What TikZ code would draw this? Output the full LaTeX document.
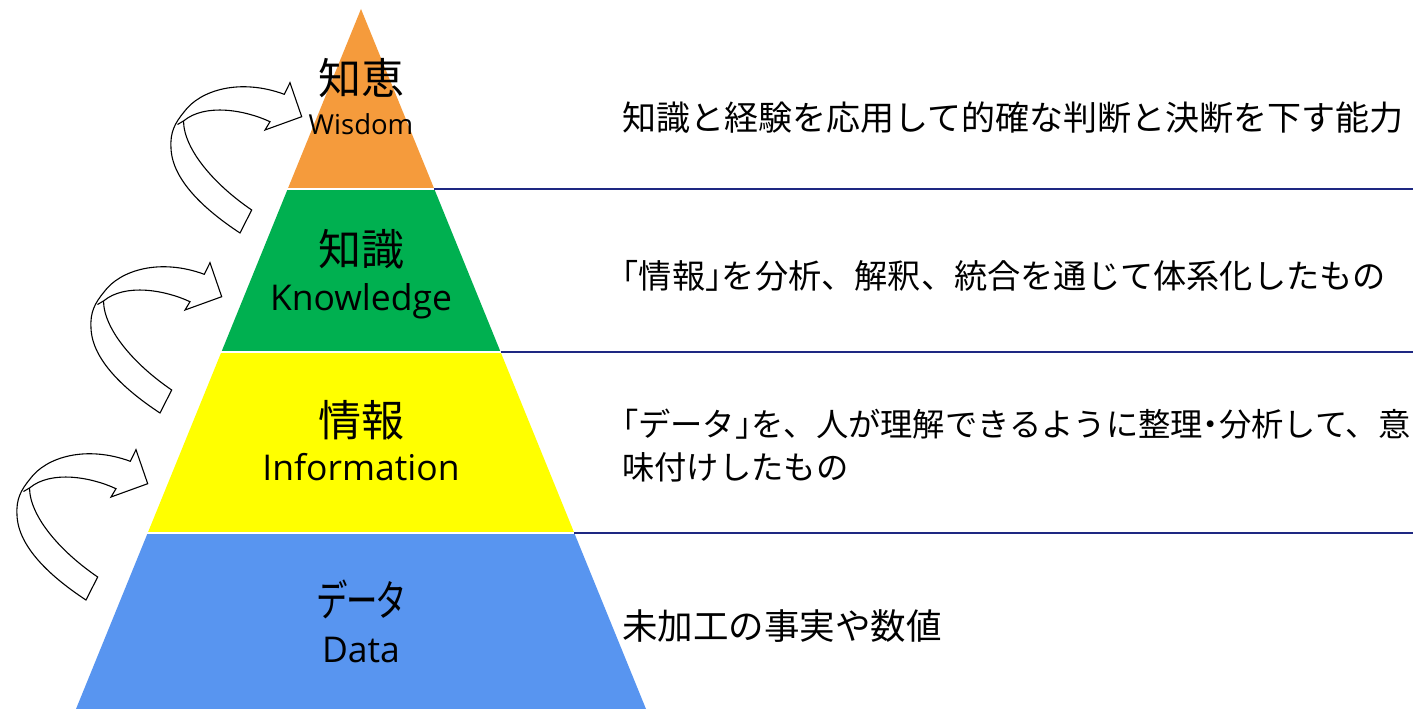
\documentclass[tikz,border=0pt]{standalone}
\usepackage{fontspec}
\newfontfamily\jp{Noto Sans CJK JP}
\newfontfamily\jph[RawFeature=+halt]{Noto Sans CJK JP}
\newfontfamily\jpp[RawFeature=+palt]{Noto Sans CJK JP}
\newfontfamily\lat{Open Sans}
\definecolor{cOrange}{RGB}{245,155,60}
\definecolor{cGreen}{RGB}{0,176,80}
\definecolor{cYellow}{RGB}{255,255,0}
\definecolor{cBlue}{RGB}{88,149,240}
\definecolor{cNavy}{RGB}{30,40,130}
\begin{document}
\begin{tikzpicture}[x=1pt,y=-1pt,
  lbljp/.style={font=\jp\fontsize{43}{50}\selectfont, anchor=base, inner sep=0pt},
  lblen/.style={font=\lat\fontsize{35.5}{40}\selectfont, anchor=base, inner sep=0pt},
  lblsm/.style={font=\lat\fontsize{27.5}{32}\selectfont, anchor=base, inner sep=0pt},
  desc/.style={font=\jp\fontsize{#1}{40}\selectfont, anchor=base west, inner sep=0pt},
  desc/.default=34,
  sepline/.style={draw=cNavy, line width=1.5pt},
  gapline/.style={draw=white, line width=1.5pt},
  bentarrow/.pic={
    \filldraw[fill=white, draw=black, line width=1.1pt, line join=miter]
      (240,233) .. controls (205,210) and (172,180) .. (171,148)
      .. controls (170,132) and (175,123) .. (184,112)
      .. controls (200,90) and (240,78) .. (284.3,94.3)
      -- (290,82.7) -- (301.7,116.7) -- (265,130) -- (270,121.7)
      .. controls (245,110) and (205,103) .. (183.5,121)
      .. controls (184,150) and (215,185) .. (251.7,210) -- cycle;
    \draw[line width=1.1pt] (183.5,121) -- (177.5,124.5);
  }]
\useasboundingbox[fill=white] (0,0) rectangle (1413,709);

% pyramid layers
\fill[cOrange] (361,9) -- (434.3,189) -- (287.7,189) -- cycle;
\fill[cGreen] (287.7,189) -- (434.3,189) -- (500.6,352) -- (221.4,352) -- cycle;
\fill[cYellow] (221.4,352) -- (500.6,352) -- (574.3,533) -- (147.7,533) -- cycle;
\fill[cBlue] (147.7,533) -- (574.3,533) -- (646,709) -- (76,709) -- cycle;
\draw[gapline] (280,189) -- (434.3,189);
\draw[gapline] (215,352) -- (500.6,352);
\draw[gapline] (140,533) -- (574.3,533);

% separator lines
\coordinate (r1) at (434.3,189); \coordinate (e1) at (1413,189);
\coordinate (r2) at (500.6,352); \coordinate (e2) at (1413,352);
\coordinate (r3) at (574.3,533); \coordinate (e3) at (1413,533);
\draw[sepline] (r1) -- (e1);
\draw[sepline] (r2) -- (e2);
\draw[sepline] (r3) -- (e3);

% curved arrows
\pic at (0,0) {bentarrow};
\pic at (-80,180) {bentarrow};
\pic at (-154,367) {bentarrow};

% layer labels
\node[lbljp] (wjp) at (361,95) {知恵};
\node[lblsm] (wen) at (361,134.5) {Wisdom};
\node[lbljp] (kjp) at (361,265.5) {知識};
\node[lblen] (ken) at (361,310) {Knowledge};
\node[lbljp] (ijp) at (361,436) {情報};
\node[lblen] (ien) at (361,480) {Information};
\node[lbljp] (djp) at (361,616) {\scalebox{0.73}[1]{\jpp データ}};
\node[lblen] (den) at (361,662) {Data};

% descriptions
\node[desc=34] (t1) at (622,130) {知識と経験を応用して的確な判断と決断を下す能力};
\node[desc=33.2] (t2) at (622,288) {{\jph 「}情報{\jph 」}を分析、解釈、統合を通じて体系化したもの};
\node[desc=32.3] (t3) at (622,436) {{\jph 「}データ{\jph 」}を、人が理解できるように整理{\jph ・}分析して、意};
\node[desc=32.3] (t4) at (622,479) {味付けしたもの};
\node[desc=35.5] (t5) at (622,639) {未加工の事実や数値};
\end{tikzpicture}
\end{document}
